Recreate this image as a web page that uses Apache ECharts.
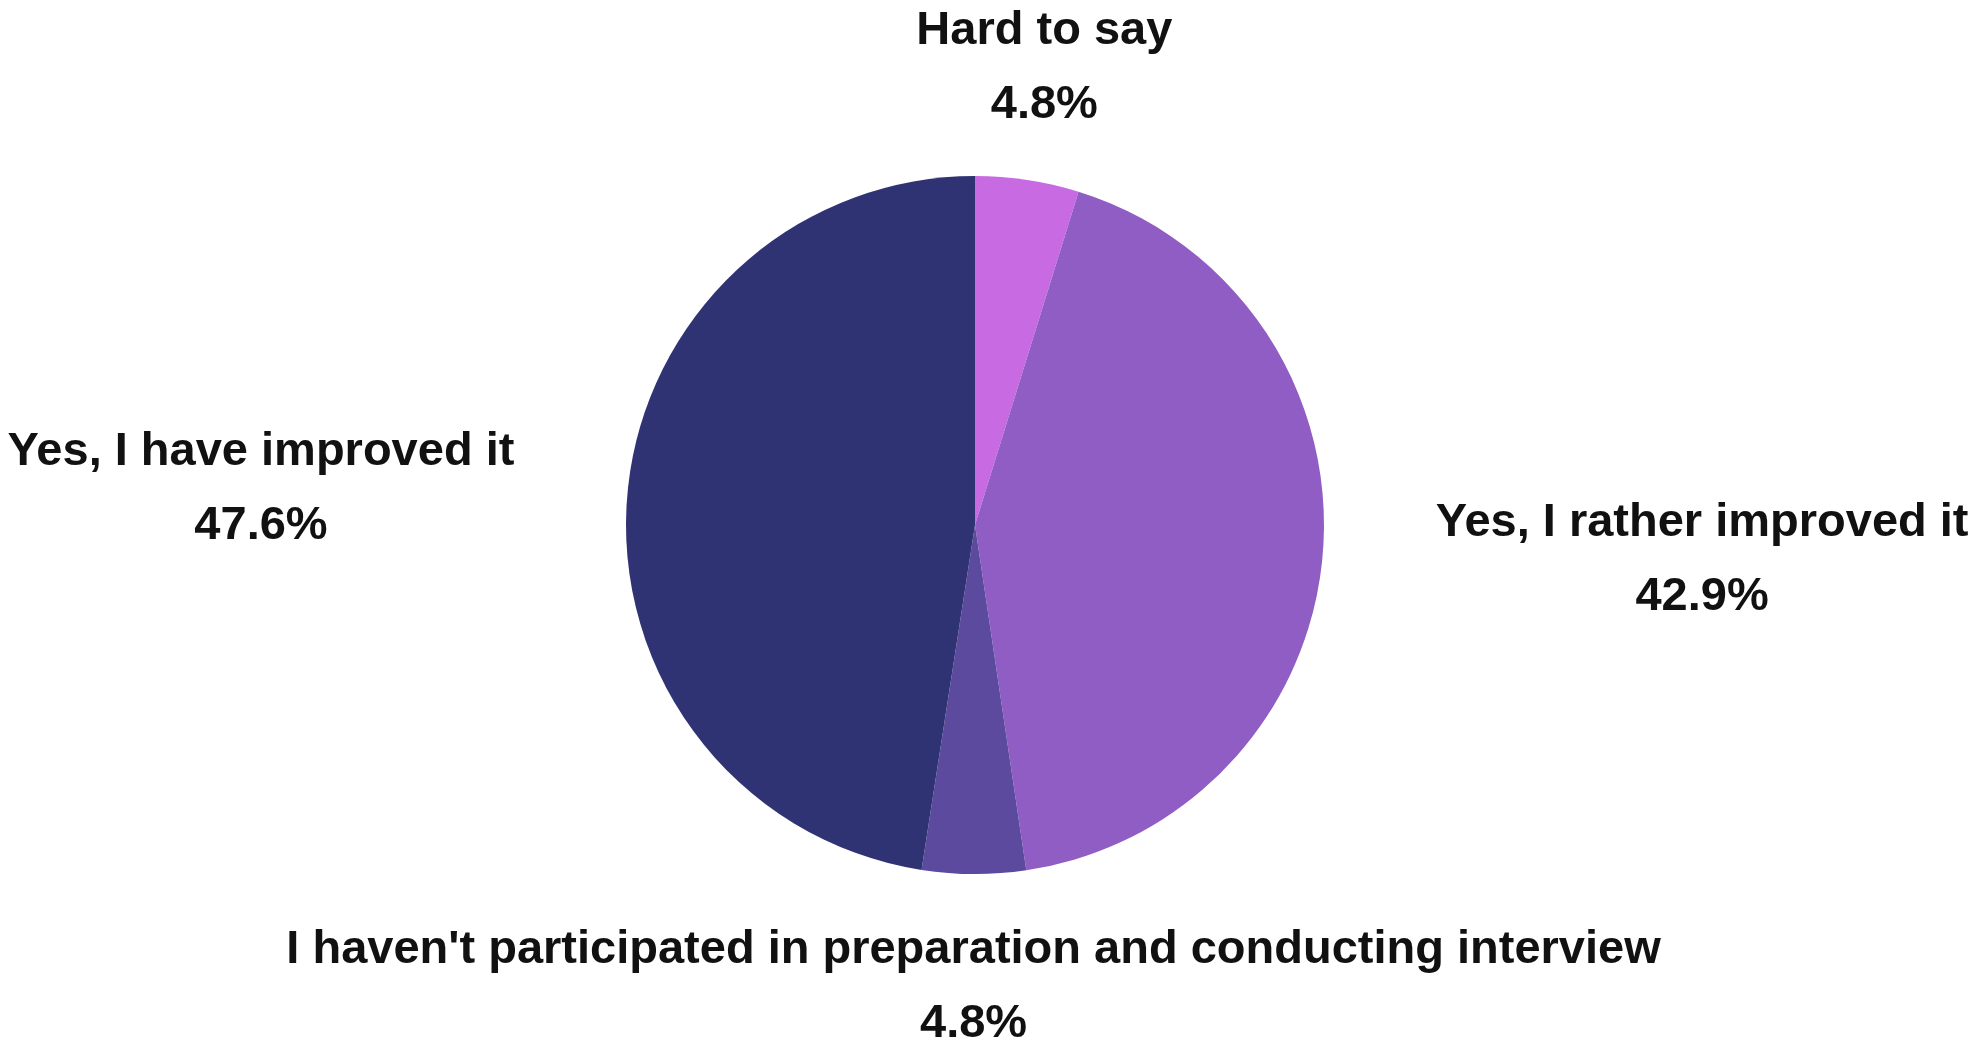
<!DOCTYPE html>
<html>
<head>
<meta charset="utf-8">
<style>
  html, body { margin: 0; padding: 0; background: #ffffff; }
  #chart { width: 1987px; height: 1046px; }
</style>
<script src="https://cdn.jsdelivr.net/npm/echarts@6/dist/echarts.min.js"></script>
</head>
<body>
<div id="chart"></div>
<script>
const categories = [
  "Hard to say",
  "Yes, I rather improved it",
  "I haven't participated in preparation and conducting interview",
  "Yes, I have improved it"
];
const shares = [4.8, 42.9, 4.8, 47.6];
const sliceColors = ["#C86BE2", "#905DC4", "#5B4A9D", "#2F3374"];

const CX = 975 / 1987, CY = 525 / 1046;
const chart = echarts.init(document.getElementById('chart'), null, { renderer: 'canvas' });

const FONT = '"Liberation Sans", Arial, sans-serif';
const option = {
  backgroundColor: '#ffffff',
  animation: false,
  series: [{
    type: 'pie',
    center: [(CX * 100) + '%', (CY * 100) + '%'],
    radius: 349,
    startAngle: 90,
    clockwise: true,
    avoidLabelOverlap: false,
    itemStyle: { borderWidth: 0 },
    emphasis: { disabled: true },
    data: categories.map((name, i) => ({
      name: name,
      value: shares[i],
      itemStyle: { color: sliceColors[i] }
    })),
    label: {
      show: true,
      position: 'outside',
      distanceToLabelLine: 0,
      formatter: '{n|{b}}\n{v|{c}%}',
      color: '#111111',
      rich: {
        n: { fontFamily: FONT, fontSize: 47, fontWeight: 'bold', lineHeight: 74, align: 'center', color: '#111111' },
        v: { fontFamily: FONT, fontSize: 47, fontWeight: 'bold', lineHeight: 74, align: 'center', color: '#111111' }
      }
    },
    labelLine: { show: false, length: 113, length2: 0 },
    labelLayout: function (p) {
      const r = p.labelRect;
      const ax = p.align === 'right' ? r.x + r.width : r.x;
      const ay = r.y + r.height / 2;
      const dx = ax - chart.getWidth() * CX;
      const dy = ay - chart.getHeight() * CY;
      if (Math.abs(dx) < Math.abs(dy)) {
        return { align: 'center' };
      }
      return {};
    }
  }]
};
chart.setOption(option);
</script>
</body>
</html>
